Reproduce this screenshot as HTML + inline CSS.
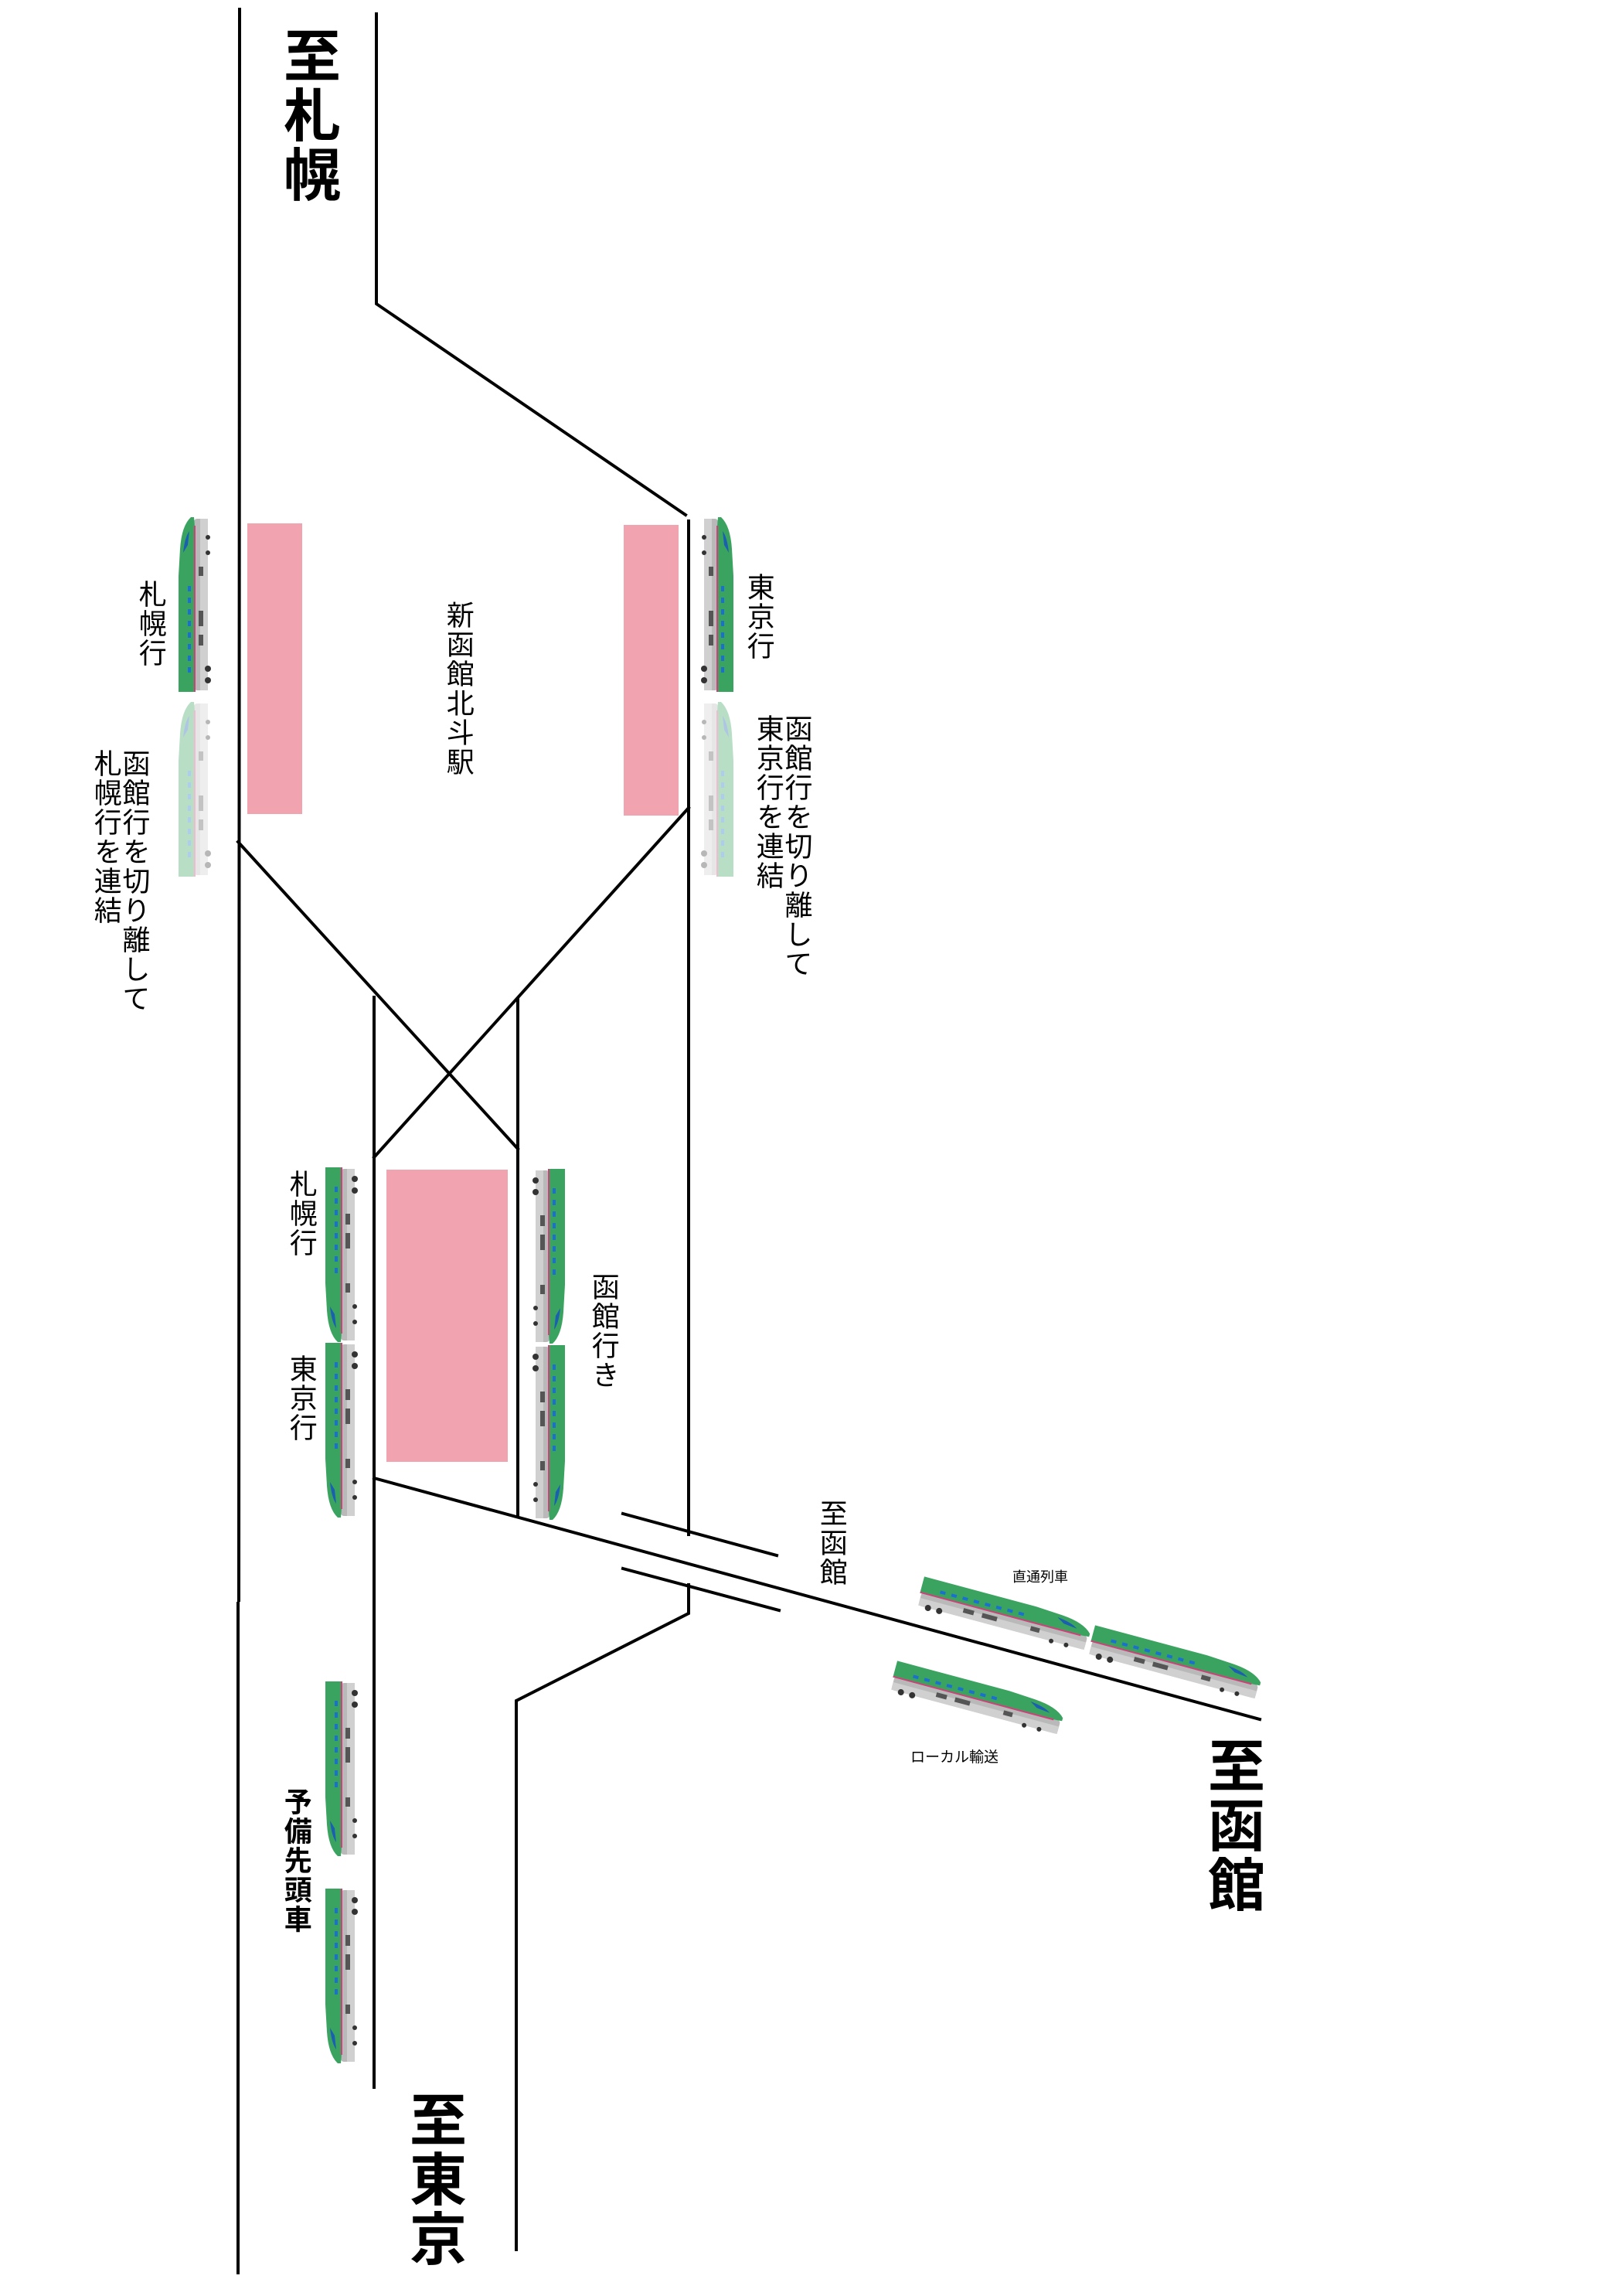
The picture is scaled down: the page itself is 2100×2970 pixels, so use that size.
<!DOCTYPE html>
<html><head><meta charset="utf-8"><style>
html,body{margin:0;padding:0;background:#fff}
#c{position:relative;width:2100px;height:2970px;overflow:hidden;background:#fff}
svg{position:absolute;left:0;top:0}
.v{position:absolute;writing-mode:vertical-rl;font-family:"Liberation Sans","Noto Sans CJK JP",sans-serif;color:#000;line-height:1.02;white-space:nowrap}
.m{font-size:36px;letter-spacing:2px}
.b{font-size:74px;font-weight:bold;letter-spacing:3px}
.h{position:absolute;font-family:"Liberation Sans","Noto Sans CJK JP",sans-serif;font-size:19px;white-space:nowrap}
</style></head><body><div id="c">
<svg width="2100" height="2970" viewBox="0 0 2100 2970">
<defs>
<g id="tr">
  <rect x="22" y="2" width="18" height="222" rx="4" fill="#b9b9b9"/>
  <rect x="30" y="2" width="10" height="222" fill="#d0d0d0"/>
  <path d="M2,0 H24 V175 Q24,205 22,226 H18 Q6,215 4,185 L2,150 Z" fill="#3aa35f"/>
  <line x1="23" y1="0" x2="23" y2="215" stroke="#d0407a" stroke-width="2"/>
  <g fill="#1b6fd1"><rect x="14" y="25" width="4" height="7"/><rect x="14" y="40" width="4" height="7"/><rect x="14" y="55" width="4" height="7"/><rect x="14" y="70" width="4" height="7"/><rect x="14" y="85" width="4" height="7"/><rect x="14" y="100" width="4" height="7"/><rect x="14" y="115" width="4" height="7"/><rect x="14" y="130" width="4" height="7"/></g>
  <path d="M8,180 Q10,200 16,208 L14,190 Z" fill="#1a5fb0"/>
  <g fill="#555"><rect x="28" y="60" width="6" height="14"/><rect x="28" y="85" width="6" height="20"/><rect x="28" y="150" width="6" height="12"/></g>
  <g fill="#333"><circle cx="40" cy="15" r="4"/><circle cx="40" cy="30" r="4"/><circle cx="40" cy="180" r="3"/><circle cx="40" cy="200" r="3"/></g>
</g>
</defs>
<g stroke="#000" stroke-width="4" fill="none" stroke-linecap="square">
  <polyline points="310,12 309,2070"/>
  <polyline points="308,2074 308,2940"/>
  <polyline points="487,18 487,393 887,666"/>
  <polyline points="891,674 891,1985"/>
  <polyline points="891,2050 891,2087 668,2200 668,2910"/>
  <polyline points="308,1089 670,1486"/>
  <polyline points="891,1045 484,1497"/>
  <polyline points="484,1290 484,2700"/>
  <polyline points="670,1292 670,1960"/>
  <polyline points="484,1912 1630,2224"/>
  <polyline points="806,1958 1005,2012"/>
  <polyline points="806,2029 1008,2083"/>
</g>
<g fill="#f2a3b0">
  <rect x="320" y="677" width="71" height="376"/>
  <rect x="807" y="679" width="71" height="376"/>
  <rect x="500" y="1513" width="157" height="378"/>
</g>
<use href="#tr" transform="translate(229,895) scale(1,-1)"/>
<use href="#tr" transform="translate(229,1134) scale(1,-1)" opacity="0.35"/>
<use href="#tr" transform="translate(951,895) scale(-1,-1)"/>
<use href="#tr" transform="translate(951,1134) scale(-1,-1)" opacity="0.35"/>
<use href="#tr" transform="translate(419,1510)"/>
<use href="#tr" transform="translate(419,1737)"/>
<use href="#tr" transform="translate(733,1512) scale(-1,1)"/>
<use href="#tr" transform="translate(733,1740) scale(-1,1)"/>
<use href="#tr" transform="translate(419,2175)"/>
<use href="#tr" transform="translate(419,2443)"/>
<use href="#tr" transform="translate(1300,2088) rotate(-75) scale(-1,1) translate(-22,-113)"/>
<use href="#tr" transform="translate(1521,2151) rotate(-75) scale(-1,1) translate(-22,-113)"/>
<use href="#tr" transform="translate(1265,2197) rotate(-75) scale(-1,1) translate(-22,-113)"/>
</svg>
<div class="v b" style="left:360px;top:34px">至札幌</div>
<div class="v m" style="left:574px;top:777px">新函館北斗駅</div>
<div class="v m" style="left:176px;top:750px">札幌行</div>
<div class="v m" style="left:118px;top:969px">函館行を切り離して<br>札幌行を連結</div>
<div class="v m" style="left:963px;top:741px">東京行</div>
<div class="v m" style="left:975px;top:924px">函館行を切り離して<br>東京行を連結</div>
<div class="v m" style="left:371px;top:1513px">札幌行</div>
<div class="v m" style="left:371px;top:1752px">東京行</div>
<div class="v m" style="left:762px;top:1646px">函館行き</div>
<div class="v m" style="left:364px;top:2312px;font-weight:bold">予備先頭車</div>
<div class="v b" style="left:523px;top:2704px">至東京</div>
<div class="v m" style="left:1057px;top:1939px">至函館</div>
<div class="v b" style="left:1556px;top:2246px">至函館</div>
<div class="h" style="left:1310px;top:2026px;font-size:18px">直通列車</div>
<div class="h" style="left:1178px;top:2258px">ローカル輸送</div>
</div></body></html>
